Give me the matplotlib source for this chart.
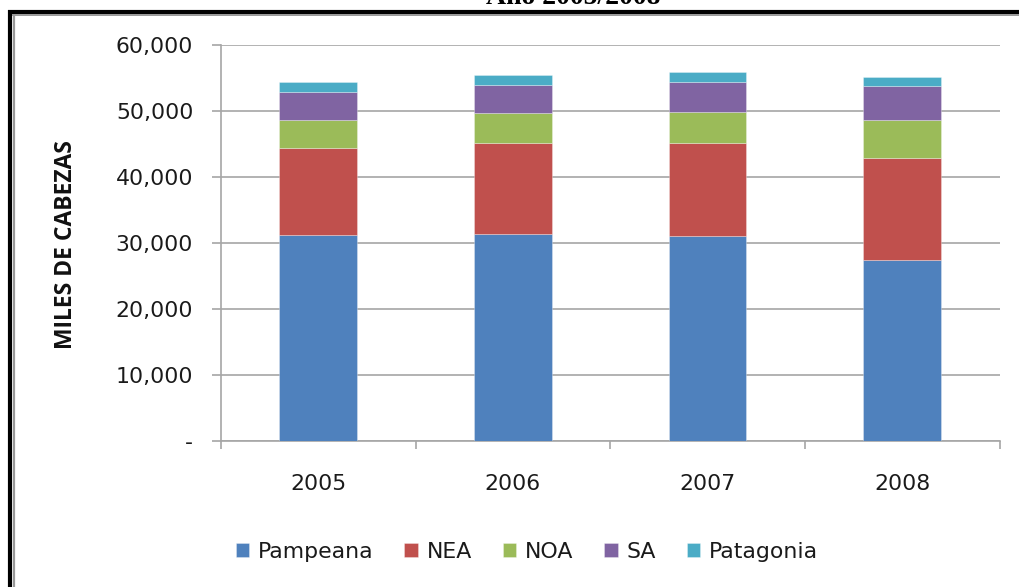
import matplotlib
matplotlib.use("Agg")
import matplotlib.pyplot as plt
from matplotlib.lines import Line2D
from matplotlib.ticker import FuncFormatter, FixedLocator
import numpy as np

years = ["2005", "2006", "2007", "2008"]
regions = ["Pampeana", "NEA", "NOA", "SA", "Patagonia"]
pampeana = [31200, 31420, 31060, 27500]
nea = [13250, 13790, 14150, 15400]
noa = [4250, 4440, 4700, 5670]
sa = [4140, 4290, 4440, 5240]
patagonia = [1510, 1580, 1560, 1360]
colors = ["#4F81BD", "#C0504D", "#9BBB59", "#8064A2", "#4BACC6"]
yticks = [0, 10000, 20000, 30000, 40000, 50000, 60000]
title = "Año 2005/2008"
ylabel = "MILES DE CABEZAS"

W, H = 1019, 587
fig = plt.figure(figsize=(W / 100, H / 100), dpi=100)
ax = fig.add_axes([221 / W, 1 - 441 / H, (999.5 - 221) / W, (441 - 45) / H])

x = np.arange(len(years))
bottom = np.zeros(len(years))
series = [pampeana, nea, noa, sa, patagonia]
for name, vals, c in zip(regions, series, colors):
    ax.bar(x, vals, width=0.4, bottom=bottom, color=c, label=name,
           edgecolor=(1, 1, 1, 0.35), linewidth=0.6, zorder=3)
    bottom += np.array(vals)

ax.set_xlim(-0.5, len(years) - 0.5)
ax.set_ylim(0, 60000)
ax.set_yticks(yticks)
ax.yaxis.set_major_formatter(FuncFormatter(lambda v, p: "-" if v == 0 else f"{v:,.0f}"))
ax.grid(axis="y", color="#A6A6A6", linewidth=1.2, zorder=0)
ax.set_axisbelow(True)

ax.set_xticks(x)
ax.set_xticklabels(years)
ax.xaxis.set_minor_locator(FixedLocator(np.arange(-0.5, len(years), 1.0)))
ax.tick_params(axis="x", which="major", length=0, pad=24, labelsize=15.8, labelcolor="#1a1a1a")
ax.tick_params(axis="x", which="minor", length=6, width=1.2, color="#A6A6A6", direction="out")
ax.tick_params(axis="y", length=6.5, width=1.2, color="#A6A6A6", pad=13.5, labelsize=15.8, labelcolor="#1a1a1a")
for lbl in ax.get_xticklabels() + ax.get_yticklabels():
    lbl.set_family("DejaVu Sans")

for s in ["top", "right"]:
    ax.spines[s].set_visible(False)
for s in ["left", "bottom"]:
    ax.spines[s].set_color("#A6A6A6")
    ax.spines[s].set_linewidth(1.2)

fig.text(66 / W, 1 - 245 / H, ylabel, rotation=90, ha="center", va="center",
         fontsize=16.5, fontweight="bold", family="Open Sans", color="#111111")

leg = fig.legend(loc="center", bbox_to_anchor=(527 / W, 1 - 552 / H), ncol=5,
                 frameon=False, handlelength=0.62, handleheight=0.62,
                 handletextpad=0.4, columnspacing=1.4,
                 prop={"family": "DejaVu Sans", "size": 15.8})
for t in leg.get_texts():
    t.set_color("#1a1a1a")

fig.text(573.5 / W, 1 - 4 / H, title, ha="center", va="baseline",
         fontsize=20, fontweight="bold", family="Liberation Serif", color="black")

# border: thick black outer line, thin gray inner line
fig.add_artist(Line2D([8 / W, 1], [1 - 12 / H, 1 - 12 / H], color="black", linewidth=3.0,
                      transform=fig.transFigure, solid_capstyle="butt"))
fig.add_artist(Line2D([10 / W, 10 / W], [0, 1 - 10 / H], color="black", linewidth=3.0,
                      transform=fig.transFigure, solid_capstyle="butt"))
fig.add_artist(Line2D([12 / W, 1], [1 - 15 / H, 1 - 15 / H], color="#999999", linewidth=1.4,
                      transform=fig.transFigure, solid_capstyle="butt"))
fig.add_artist(Line2D([13.5 / W, 13.5 / W], [0, 1 - 14 / H], color="#999999", linewidth=1.6,
                      transform=fig.transFigure, solid_capstyle="butt"))

fig.savefig("out.png", dpi=100)
